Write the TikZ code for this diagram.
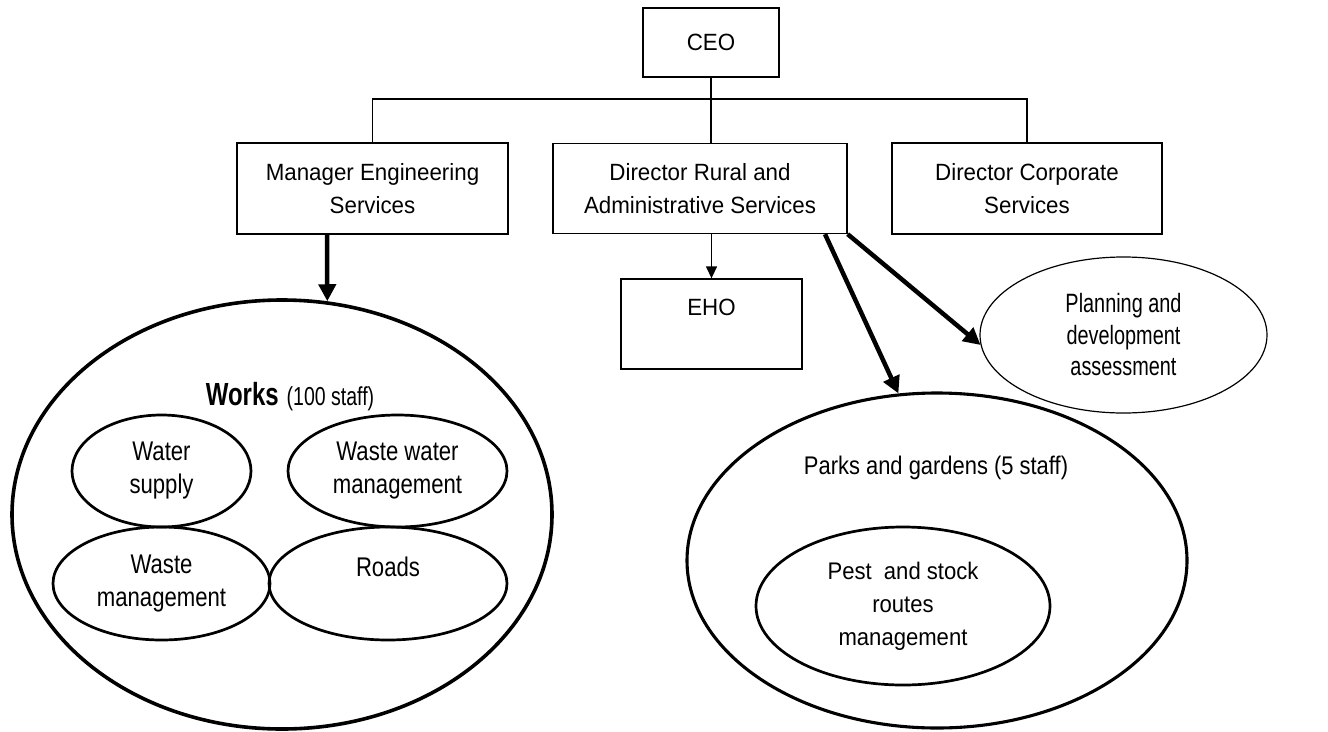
\documentclass[tikz,border=0pt]{standalone}
\usepackage{fontspec}
\setmainfont{Liberation Sans}[FakeStretch=0.95]
% narrower cuts of the same family for the text set inside the ovals
\newfontfamily\unitfont{Liberation Sans}[FakeStretch=0.82]
\newfontfamily\planfont{Liberation Sans}[FakeStretch=0.75]
\newfontfamily\parksfont{Liberation Sans}[FakeStretch=0.86]
\newfontfamily\pestfont{Liberation Sans}[FakeStretch=0.92]
\usetikzlibrary{shapes.geometric,arrows.meta}

\tikzset{
  orgbox/.style={draw, line width=1.3pt, rectangle, inner sep=0pt, align=center},
  thinoval/.style={draw, line width=1.2pt, ellipse, inner sep=0pt, align=center},
  unitoval/.style={draw, line width=2.7pt, ellipse, inner sep=0pt, align=center},
  groupoval/.style={draw, line width=3.6pt, ellipse, inner sep=0pt},
  linkline/.style={line width=1.3pt},
  thinarrow/.style={line width=1.3pt, -{Triangle[width=11pt,length=12pt]}},
  boldarrow/.style={line width=4.5pt, -{Triangle[width=17pt,length=17pt]}},
  unittext/.style={font=\unitfont\fontsize{27}{33}\selectfont}
}

\begin{document}
\begin{tikzpicture}[x=1pt, y=-1pt, font=\fontsize{23.5}{33}\selectfont]
  \useasboundingbox (0,0) rectangle (1328,731);

  % top level
  \node[orgbox, minimum width=136pt, minimum height=69pt] (ceo) at (711,42.5) {CEO};

  % second level
  \node[orgbox, minimum width=271pt, minimum height=91pt] (mgr) at (372.5,188.5)
    {Manager Engineering\\Services};
  \node[orgbox, minimum width=294pt, minimum height=90pt] (drs) at (700,188.5)
    {Director Rural and\\Administrative Services};
  \node[orgbox, minimum width=270pt, minimum height=91pt] (dcs) at (1027,188.5)
    {Director Corporate\\Services};

  % reporting lines from the CEO
  \coordinate (bus) at (711,99);
  \draw[linkline] (ceo.south) -- (ceo.south |- drs.north);
  \draw[linkline] (mgr.north) |- (bus) -| (dcs.north);

  % environmental health
  \node[orgbox, minimum width=181pt, minimum height=90pt] (eho) at (711.5,324)
    {EHO\\\mbox{}};
  \draw[thinarrow] (drs.south -| eho.north) -- (eho.north);

  % planning
  \node[thinoval, font=\planfont\fontsize{26.5}{31.5}\selectfont,
        minimum width=287pt, minimum height=156pt] (plan) at (1123.5,335)
    {Planning and\\development\\assessment};

  % works group
  \node[groupoval, minimum width=540pt, minimum height=429pt] (works) at (282,514.5) {};
  \node[font=\planfont] (workslabel) at (290,397)
    {\textbf{\fontsize{32}{34}\selectfont Works}\hspace{8pt}{\fontsize{26}{30}\selectfont(100 staff)}};
  \node[unitoval, unittext, minimum width=179pt, minimum height=112pt] (water) at (161.5,471)
    {Water\\supply};
  \node[unitoval, unittext, minimum width=219pt, minimum height=112pt] (wastewater) at (397.5,471)
    {Waste water\\management};
  \node[unitoval, unittext, minimum width=217pt, minimum height=113pt] (waste) at (161.5,583.5)
    {Waste\\management};
  \node[unitoval, unittext, minimum width=238pt, minimum height=113pt] (roads) at (388,583.5)
    {Roads\\\mbox{}};

  % parks group
  \node[draw, line width=3.1pt, ellipse, inner sep=0pt, minimum width=500pt, minimum height=335pt]
    (parks) at (937,560.5) {};
  \node[font=\parksfont\fontsize{25.5}{30}\selectfont] (parkslabel) at (936,468)
    {Parks and gardens (5 staff)};
  \node[unitoval, font=\pestfont\fontsize{24}{33}\selectfont,
        minimum width=294pt, minimum height=158pt] (pest) at (903,606)
    {Pest\ \ and stock\\routes\\management};

  % links to the operational units
  \draw[boldarrow] (mgr.south -| 327,0) -- (works.78);
  \draw[boldarrow] (drs.south -| 825,0) -- (parks.103);
  \draw[boldarrow] (drs.south east) -- (plan.184);
\end{tikzpicture}
\end{document}
